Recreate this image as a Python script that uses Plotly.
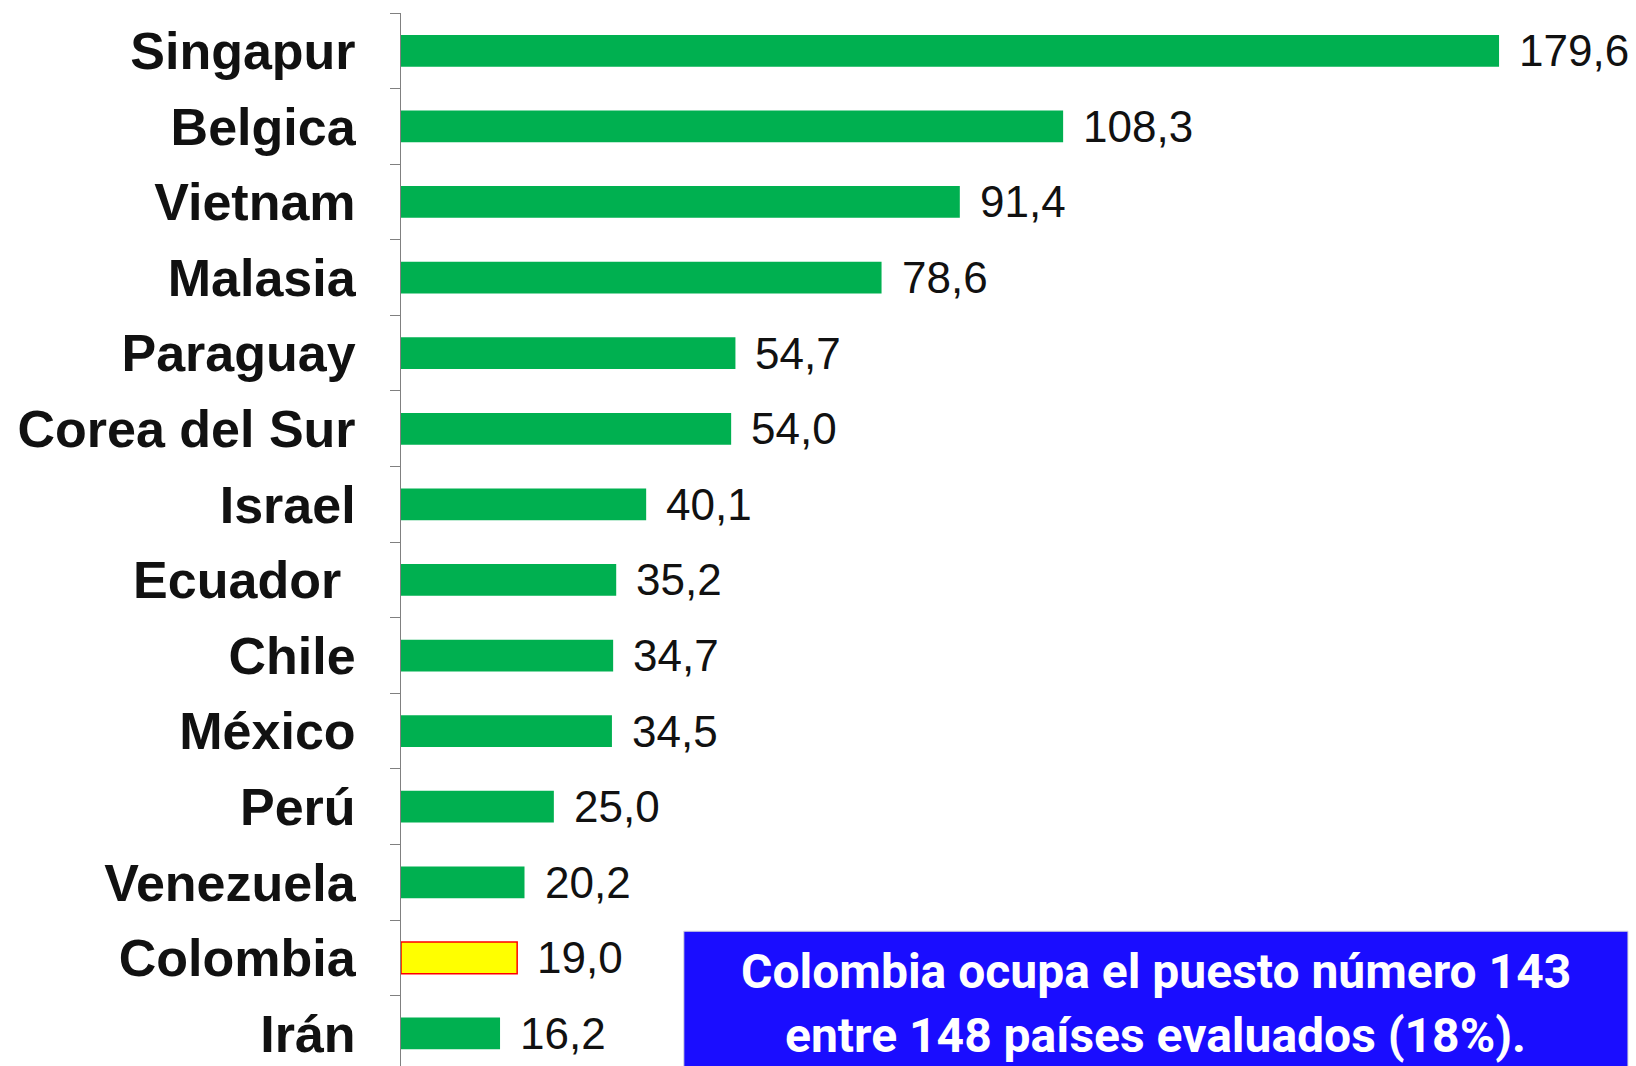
import plotly.graph_objects as go

countries = ["Singapur", "Belgica", "Vietnam", "Malasia", "Paraguay", "Corea del Sur",
             "Israel", "Ecuador", "Chile", "México", "Perú", "Venezuela", "Colombia", "Irán"]
tick_labels = ["Singapur", "Belgica", "Vietnam", "Malasia", "Paraguay", "Corea del Sur",
               "Israel", "Ecuador\u00a0", "Chile", "México", "Perú", "Venezuela", "Colombia", "Irán"]
values = [179.6, 108.3, 91.4, 78.6, 54.7, 54.0, 40.1, 35.2, 34.7, 34.5, 25.0, 20.2, 19.0, 16.2]
highlight = "Colombia"
note_lines = ["Colombia ocupa el puesto número 143", "entre 148 países evaluados (18%)."]

GREEN = "#00b050"
colors = ["#ffff00" if c == highlight else GREEN for c in countries]
line_colors = ["#ff0000" if c == highlight else GREEN for c in countries]
line_widths = [1.5 if c == highlight else 0 for c in countries]

fig = go.Figure()
fig.add_trace(go.Bar(
    x=values, y=countries, orientation="h",
    marker=dict(color=colors, line=dict(color=line_colors, width=line_widths)),
    hoverinfo="skip",
))

for c, v in zip(countries, values):
    fig.add_annotation(
        x=v, y=c, xref="x", yref="y", text=f"{v:.1f}".replace(".", ","),
        showarrow=False, xanchor="left", yanchor="middle", xshift=18,
        font=dict(family="Liberation Sans, Arial, sans-serif", size=44, color="#111111"),
    )

# Blue note box
fig.add_shape(type="rect", xref="paper", yref="paper",
              x0=0.229, x1=0.9935, y0=-0.01, y1=0.128,
              fillcolor="#1a0dff", line=dict(color="#d9d9d9", width=1), layer="above")
NOTE_FONT = dict(family="Roboto, Liberation Sans, Arial, sans-serif", size=48,
                 color="white", weight="bold")
fig.add_annotation(xref="paper", yref="paper", x=0.611, y=0.0902, text=note_lines[0],
                   showarrow=False, xanchor="center", yanchor="middle", font=NOTE_FONT)
fig.add_annotation(xref="paper", yref="paper", x=0.611, y=0.0294, text=note_lines[1],
                   showarrow=False, xanchor="center", yanchor="middle", font=NOTE_FONT)

fig.update_layout(
    width=1636, height=1066,
    margin=dict(l=401, r=0, t=13, b=0),
    paper_bgcolor="white", plot_bgcolor="white",
    bargap=0.58, showlegend=False,
)
fig.update_xaxes(range=[0, 202], showgrid=False, zeroline=False, showticklabels=False,
                 showline=False, ticks="")
fig.update_yaxes(
    type="category", categoryorder="array", categoryarray=countries,
    tickmode="array", tickvals=countries, ticktext=tick_labels,
    range=[13.43, -0.5],
    showgrid=False, zeroline=False,
    showline=True, linecolor="#808080", linewidth=1,
    ticks="outside", ticklen=10, tickcolor="#808080", tickson="boundaries",
    ticklabelstandoff=34,
    tickfont=dict(family="Liberation Sans, Arial, sans-serif", size=52, color="#111111", weight="bold"),
)

fig.write_html("out.html", config={"displayModeBar": False},
               post_script="document.body.style.margin='0px';document.body.style.overflow='hidden';")
